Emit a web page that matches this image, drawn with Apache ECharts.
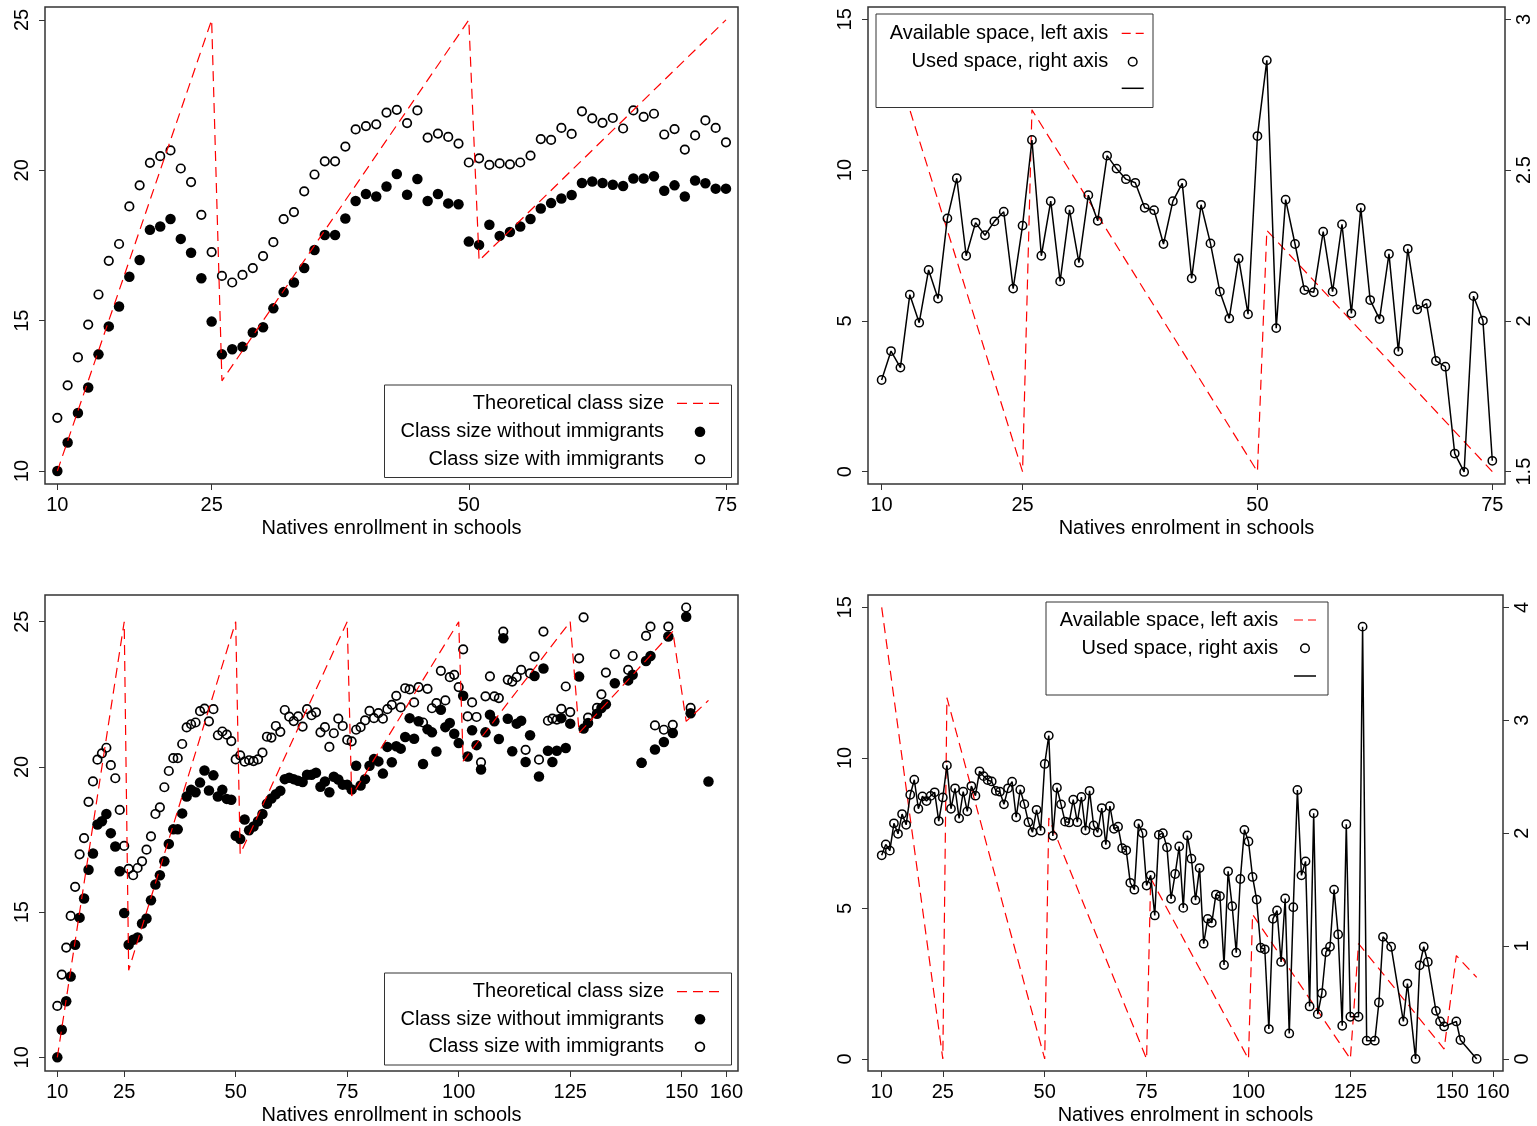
<!DOCTYPE html>
<html>
<head>
<meta charset="utf-8">
<script src="https://cdn.jsdelivr.net/npm/echarts@6/dist/echarts.min.js"></script>
<style>
html,body{margin:0;padding:0;background:#fff;}
#c{width:1537px;height:1126px;}
</style>
</head>
<body>
<div id="c"></div>
<script>
// ---- Data ----
const enrolA = [10,11,12,13,14,15,16,17,18,19,20,21,22,23,24,25,26,27,28,29,30,31,32,33,34,35,36,37,38,39,40,41,42,43,44,45,46,47,48,49,50,51,52,53,54,55,56,57,58,59,60,61,62,63,64,65,66,67,68,69,70,71,72,73,74,75];
const enrolB = [76,77,78,79,80,81,82,83,84,85,86,87,88,89,90,91,92,93,94,95,96,97,98,99,100,101,102,103,104,105,106,107,108,109,110,111,112,113,114,115,116,117,118,119,120,121,122,123,124,125,127,128,129,131,132,133,135,138,139,141,142,143,144,146,147,148,151,152,156];

const noImmA = [10.0,10.95,11.93,12.78,13.88,14.81,15.47,16.46,17.02,18.02,
  18.13,18.38,17.72,17.26,16.41,14.97,13.88,14.05,14.13,14.61,
  14.78,15.41,15.95,16.27,16.75,17.35,17.85,17.85,18.4,18.98,
  19.21,19.13,19.46,19.88,19.19,19.71,18.98,19.21,18.9,18.87,
  17.63,17.52,18.19,17.82,17.95,18.13,18.38,18.73,18.91,19.06,
  19.18,19.58,19.63,19.58,19.52,19.48,19.73,19.73,19.8,19.32,
  19.5,19.13,19.66,19.57,19.39,19.39];
const withImmA = [11.77,12.85,13.78,14.87,15.87,16.99,17.55,18.8,19.5,20.25,
  20.47,20.66,20.06,19.61,18.52,17.28,16.49,16.27,16.52,16.75,
  17.15,17.61,18.38,18.61,19.3,19.86,20.3,20.3,20.79,21.36,
  21.47,21.53,21.92,22.01,21.57,21.99,21.09,21.22,21.11,20.89,
  20.26,20.4,20.18,20.23,20.2,20.26,20.49,21.04,21.01,21.41,
  21.21,21.96,21.73,21.58,21.74,21.39,21.99,21.78,21.88,21.19,
  21.37,20.69,21.16,21.66,21.41,20.93];
const noImmB = [19.22,20.04,19.36,19.58,20.04,20.27,20.19,19.77,20.69,20.16,
  20.71,20.63,21.03,21.68,20.97,21.57,20.1,21.3,21.19,20.53,
  21.97,21.37,21.51,21.14,20.82,22.45,20.36,21.26,20.75,19.91,
  21.19,21.8,21.57,20.96,24.43,21.66,20.54,21.49,21.59,20.17,
  21.09,23.13,19.67,23.39,20.56,20.17,20.56,21.68,20.65,21.49,
  23.11,21.32,21.51,21.83,22.03,22.16,22.88,22.98,23.17,20.14,
  23.65,23.82,20.6,20.86,24.49,21.17,25.17,21.85,19.5];
const withImmB = [20.88,21.28,21.37,21.6,21.93,21.68,21.85,21.66,21.99,22.14,
  22.45,22.05,22.71,22.67,22.22,22.75,21.53,22.69,22.02,22.2,
  23.31,22.29,23.09,23.17,22.75,24.05,21.74,22.22,21.72,20.16,
  22.43,23.12,22.43,22.37,24.66,23.0,22.94,23.09,23.34,20.59,
  23.22,23.8,20.25,24.66,21.59,21.66,21.63,22.0,22.77,21.89,
  23.74,25.15,21.7,22.03,22.5,23.25,23.88,23.34,23.82,20.14,
  24.51,24.83,21.43,21.28,24.83,21.45,25.49,22.03,null];

const usedA = [1.804,1.900,1.845,2.087,1.994,2.169,2.074,2.340,2.473,2.216,
  2.326,2.284,2.330,2.362,2.107,2.316,2.600,2.216,2.397,2.131,
  2.368,2.193,2.417,2.332,2.548,2.505,2.470,2.458,2.375,2.367,
  2.255,2.397,2.456,2.141,2.385,2.257,2.097,2.008,2.207,2.022,
  2.613,2.864,1.976,2.402,2.255,2.102,2.095,2.296,2.097,2.320,
  2.025,2.375,2.069,2.006,2.222,1.899,2.239,2.038,2.057,1.867,
  1.848,1.560,1.499,2.082,2.001,1.536];
const usedB = [1.626,1.271,1.985,2.0,1.874,1.418,1.638,1.882,1.338,1.979,
  1.774,1.406,1.691,1.021,1.241,1.206,1.456,1.441,0.832,1.662,
  1.353,0.941,1.594,2.029,1.926,1.612,1.412,0.985,0.971,0.265,
  1.241,1.315,0.859,1.421,0.226,1.344,2.382,1.626,1.75,0.465,
  2.176,0.397,0.582,0.947,0.994,1.5,1.103,0.294,2.079,0.374,
  0.374,3.829,0.162,0.162,0.5,1.082,0.994,0.332,0.668,0,
  0.829,0.994,0.859,0.426,0.332,0.288,0.332,0.168,0];

// theoretical class size (vertices of the piecewise line)
const theoX1 = [10,25,26,50,51,75];
const theoY1 = [10,25,13,25,17,25];
const theoX2 = [10,25,26,50,51,75,76,100,101,125,127,148,151,156];
const theoY2 = [10,25,13,25,17,25,19,25,20.2,25,21.17,24.67,21.57,22.29];
// available space per class (left axis)
const availX1 = [10,25,26,50,51,75];
const availY1 = [15,0,12,0,8,0];
const availX2 = [10,25,26,50,51,75,76,100,101,125,127,148,151,156];
const availY2 = [15,0,12,0,8,0,6,0,4.8,0,3.83,0.33,3.43,2.71];

// tick labels
const xTicks1 = [10,25,50,75];
const xTicks2 = [10,25,50,75,100,125,150,160];
const yTicksClass = [10,15,20,25];
const yTicksAvail = [0,5,10,15];
const yTicksUsed1 = [1.5,2,2.5,3];
const yTicksUsed2 = [0,1,2,3,4];

// ---- Build ----
const enrolAll = enrolA.concat(enrolB);
const noImmAll = noImmA.concat(noImmB);
const withImmAll = withImmA.concat(withImmB);
const usedAll = usedA.concat(usedB);
const pairs = (xs, ys) => xs.map((x, i) => [x, ys[i]]);

const FONT = '"Liberation Sans", Arial, Helvetica, sans-serif';
const FS = 20;
const frameColor = '#333';

function xAx(grid, min, max, ticks, name) {
  return {
    type: 'value', gridIndex: grid, min: min, max: max, position: 'bottom',
    axisLine: {show: false, onZero: false},
    splitLine: {show: false},
    axisTick: {show: true, inside: false, length: 6, lineStyle: {color: frameColor, width: 1}, customValues: ticks},
    axisLabel: {customValues: ticks, fontSize: FS, color: '#000', fontFamily: FONT, margin: 11},
    name: name, nameLocation: 'middle', nameGap: 34,
    nameTextStyle: {fontSize: FS, color: '#000', fontFamily: FONT}
  };
}
function yAx(grid, min, max, ticks, pos) {
  return {
    type: 'value', gridIndex: grid, min: min, max: max, position: pos,
    axisLine: {show: false, onZero: false},
    splitLine: {show: false},
    axisTick: {show: true, inside: false, length: 6, lineStyle: {color: frameColor, width: 1}, customValues: ticks},
    axisLabel: {customValues: ticks, fontSize: FS, color: '#000', fontFamily: FONT,
      rotate: 90, margin: pos === 'right' ? 9 : 13}
  };
}

const redDash = {color: '#ff0000', width: 1.2, type: [10, 6]};
const openItem = {color: 'rgba(0,0,0,0)', borderColor: '#000', borderWidth: 1.7, opacity: 1};
const fillItem = {color: '#000', opacity: 1};

const option = {
  animation: false,
  backgroundColor: '#fff',
  grid: [
    {left: 45, top: 7, width: 693, height: 477, show: true, borderColor: frameColor, borderWidth: 1.5, backgroundColor: 'transparent'},
    {left: 868, top: 7, width: 637, height: 477, show: true, borderColor: frameColor, borderWidth: 1.5, backgroundColor: 'transparent'},
    {left: 45, top: 595, width: 693, height: 477, show: true, borderColor: frameColor, borderWidth: 1.5, backgroundColor: 'transparent'},
    {left: 868, top: 595, width: 635, height: 477, show: true, borderColor: frameColor, borderWidth: 1.5, backgroundColor: 'transparent'}
  ],
  xAxis: [
    xAx(0, 8.8, 76.17, xTicks1, 'Natives enrollment in schools'),
    xAx(1, 8.55, 76.35, xTicks1, 'Natives enrolment in schools'),
    xAx(2, 7.24, 162.62, xTicks2, 'Natives enrollment in schools'),
    xAx(3, 6.64, 162.45, xTicks2, 'Natives enrolment in schools')
  ],
  yAxis: [
    yAx(0, 9.57, 25.43, yTicksClass, 'left'),
    yAx(1, -0.41, 15.41, yTicksAvail, 'left'),
    yAx(1, 1.459, 3.041, yTicksUsed1, 'right'),
    yAx(2, 9.53, 25.92, yTicksClass, 'left'),
    yAx(3, -0.40, 15.41, yTicksAvail, 'left'),
    yAx(3, -0.1067, 4.1093, yTicksUsed2, 'right')
  ],
  series: [
    // panel 1
    {type: 'line', xAxisIndex: 0, yAxisIndex: 0, data: pairs(theoX1, theoY1), symbol: 'none', lineStyle: redDash, silent: true},
    {type: 'scatter', xAxisIndex: 0, yAxisIndex: 0, data: pairs(enrolA, withImmA), symbol: 'circle', symbolSize: 8.5, itemStyle: openItem},
    {type: 'scatter', xAxisIndex: 0, yAxisIndex: 0, data: pairs(enrolA, noImmA), symbol: 'circle', symbolSize: 10.5, itemStyle: fillItem},
    // panel 2
    {type: 'line', xAxisIndex: 1, yAxisIndex: 1, data: pairs(availX1, availY1), symbol: 'none', lineStyle: redDash, silent: true},
    {type: 'line', xAxisIndex: 1, yAxisIndex: 2, data: pairs(enrolA, usedA), symbol: 'circle', symbolSize: 8.3, showAllSymbol: true,
      lineStyle: {color: '#000', width: 1.5}, itemStyle: {color: 'rgba(0,0,0,0)', borderColor: '#000', borderWidth: 1.5, opacity: 1}},
    // panel 3
    {type: 'line', xAxisIndex: 2, yAxisIndex: 3, data: pairs(theoX2, theoY2), symbol: 'none', lineStyle: redDash, silent: true},
    {type: 'scatter', xAxisIndex: 2, yAxisIndex: 3, data: pairs(enrolAll, withImmAll), symbol: 'circle', symbolSize: 8.5, itemStyle: openItem},
    {type: 'scatter', xAxisIndex: 2, yAxisIndex: 3, data: pairs(enrolAll, noImmAll), symbol: 'circle', symbolSize: 10.5, itemStyle: fillItem},
    // panel 4
    {type: 'line', xAxisIndex: 3, yAxisIndex: 4, data: pairs(availX2, availY2), symbol: 'none', lineStyle: redDash, silent: true},
    {type: 'line', xAxisIndex: 3, yAxisIndex: 5, data: pairs(enrolAll, usedAll), symbol: 'circle', symbolSize: 8.3, showAllSymbol: true,
      lineStyle: {color: '#000', width: 1.5}, itemStyle: {color: 'rgba(0,0,0,0)', borderColor: '#000', borderWidth: 1.5, opacity: 1}}
  ],
  graphic: []
};

// ---- legends drawn as graphic elements ----
function txt(x, y, s) {
  return {type: 'text', x: x, y: y, z: 101, style: {text: s, fill: '#000', font: FS + 'px ' + FONT, textAlign: 'right', textVerticalAlign: 'middle'}};
}
function classLegend(bx, by, bw, bh, tx, rows, sx) {
  return [
    {type: 'rect', z: 100, shape: {x: bx, y: by, width: bw, height: bh}, style: {fill: '#fff', stroke: frameColor, lineWidth: 1}},
    txt(tx, rows[0], 'Theoretical class size'),
    txt(tx, rows[1], 'Class size without immigrants'),
    txt(tx, rows[2], 'Class size with immigrants'),
    {type: 'line', z: 101, shape: {x1: sx - 23, y1: rows[0], x2: sx + 23, y2: rows[0]}, style: {stroke: '#ff0000', lineWidth: 1.2, lineDash: [10, 6]}},
    {type: 'circle', z: 101, shape: {cx: sx, cy: rows[1], r: 5.3}, style: {fill: '#000'}},
    {type: 'circle', z: 101, shape: {cx: sx, cy: rows[2], r: 4.4}, style: {fill: 'none', stroke: '#000', lineWidth: 1.7}}
  ];
}
function spaceLegend(bx, by, bw, bh, tx, rows, sx) {
  return [
    {type: 'rect', z: 100, shape: {x: bx, y: by, width: bw, height: bh}, style: {fill: '#fff', stroke: frameColor, lineWidth: 1}},
    txt(tx, rows[0], 'Available space, left axis'),
    txt(tx, rows[1], 'Used space, right axis'),
    {type: 'line', z: 101, shape: {x1: sx - 11, y1: rows[0], x2: sx + 11, y2: rows[0]}, style: {stroke: '#ff0000', lineWidth: 1.2, lineDash: [9, 5]}},
    {type: 'circle', z: 101, shape: {cx: sx, cy: rows[1], r: 4.3}, style: {fill: 'none', stroke: '#000', lineWidth: 1.5}},
    {type: 'line', z: 101, shape: {x1: sx - 11, y1: rows[2], x2: sx + 11, y2: rows[2]}, style: {stroke: '#000', lineWidth: 1.5}}
  ];
}
option.graphic = [].concat(
  classLegend(384.5, 385, 347, 92.5, 664, [403.3, 431.7, 459.3], 700),
  spaceLegend(876, 14, 277, 93.5, 1108.3, [33.3, 61.7, 88.3], 1132.7),
  classLegend(384.5, 973, 347, 92, 664, [991.7, 1019.3, 1046.7], 700),
  spaceLegend(1046, 602, 282, 93, 1278.3, [620, 648.3, 676], 1305)
);

const chart = echarts.init(document.getElementById('c'), null, {renderer: 'canvas'});
chart.setOption(option);
</script>
</body>
</html>
